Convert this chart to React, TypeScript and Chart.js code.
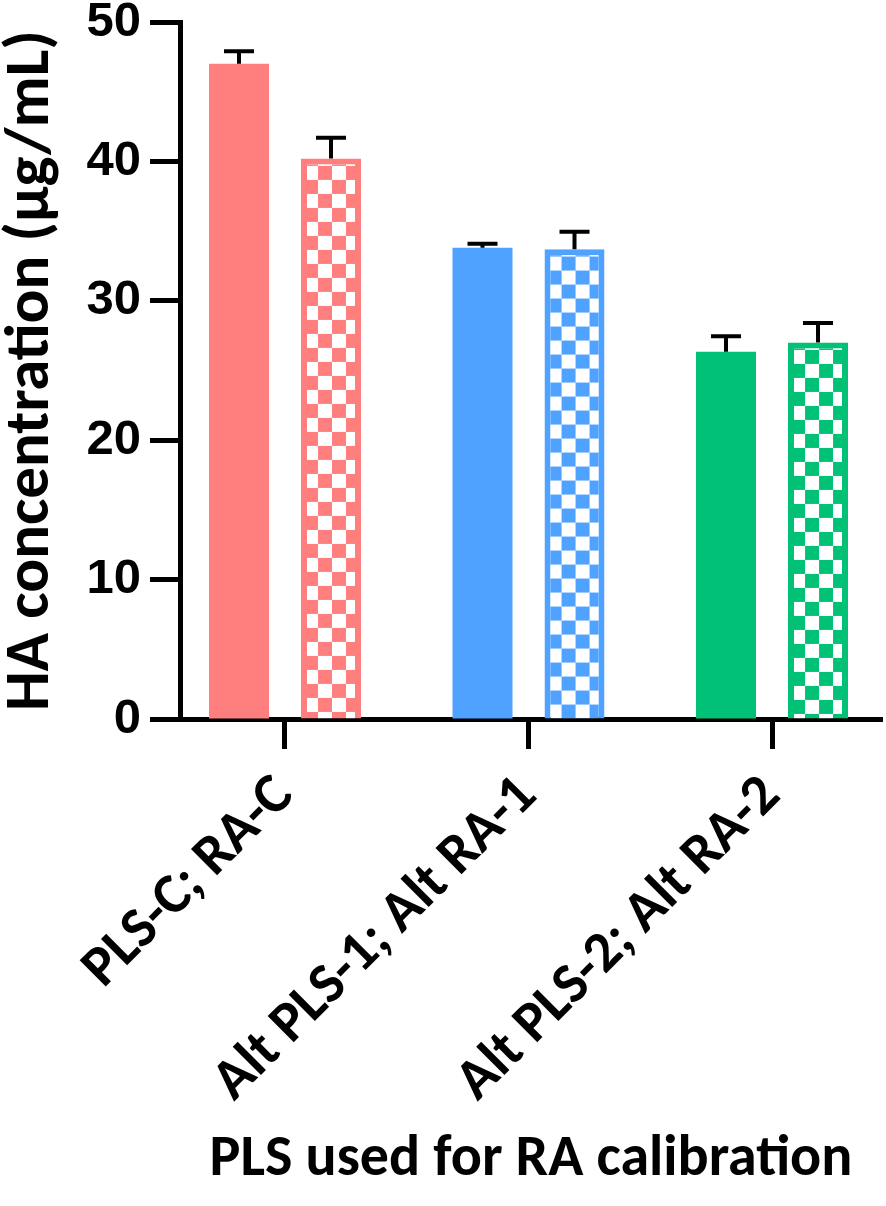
import React, { useEffect, useRef } from "react";
import { Chart, registerables } from "chart.js";

Chart.register(...registerables);

const categories = ["PLS-C; RA-C", "Alt PLS-1; Alt RA-1", "Alt PLS-2; Alt RA-2"];
const solidMeans = [47.0, 33.8, 26.35];
const solidErrors = [0.9, 0.3, 1.1];
const checkMeans = [40.2, 33.7, 27.0];
const checkErrors = [1.5, 1.25, 1.4];
const barColors = ["#FF7F7F", "#4FA2FF", "#00C176"];
const yTickValues = [0, 10, 20, 30, 40, 50];

const W = 886;
const H = 1206;

function makeChecker(color: string): CanvasPattern {
  const c = document.createElement("canvas");
  c.width = 28;
  c.height = 28;
  const g = c.getContext("2d")!;
  g.fillStyle = "#FFFFFF";
  g.fillRect(0, 0, 28, 28);
  g.fillStyle = color;
  g.fillRect(0, 0, 14, 14);
  g.fillRect(14, 14, 14, 14);
  const ctx = document.createElement("canvas").getContext("2d")!;
  return ctx.createPattern(c, "repeat")!;
}

const errorBarPlugin = {
  id: "errorBars",
  afterDatasetsDraw(chart: any) {
    const ctx = chart.ctx;
    const yScale = chart.scales.y;
    chart.data.datasets.forEach((ds: any, di: number) => {
      const meta = chart.getDatasetMeta(di);
      const errs: number[] = ds.errors || [];
      meta.data.forEach((el: any, j: number) => {
        const v = ds.data[j].y;
        const top = yScale.getPixelForValue(v + errs[j]);
        const { x, y } = el.getProps(["x", "y"], true);
        ctx.save();
        ctx.strokeStyle = "#000000";
        ctx.lineWidth = 4;
        ctx.lineCap = "butt";
        ctx.beginPath();
        ctx.moveTo(x, y);
        ctx.lineTo(x, top);
        ctx.moveTo(x - 15, top);
        ctx.lineTo(x + 15, top);
        ctx.stroke();
        ctx.restore();
      });
    });
  },
};

const patternAlignPlugin = {
  id: "patternAlign",
  beforeDatasetsDraw(chart: any) {
    chart.data.datasets.forEach((ds: any, di: number) => {
      if (!ds.checkered) return;
      const meta = chart.getDatasetMeta(di);
      meta.data.forEach((el: any, j: number) => {
        const { x, y, width } = el.getProps(["x", "y", "width"], true);
        const p = ds.backgroundColor[j];
        if (p && p.setTransform) {
          p.setTransform(new DOMMatrix([1, 0, 0, 1, x - width / 2 + 3, y - 6.7]));
        }
      });
    });
  },
};

export default function App() {
  const ref = useRef<HTMLCanvasElement>(null);

  useEffect(() => {
    const canvas = ref.current!;
    const patterns = barColors.map((c) => makeChecker(c));
    const chart = new Chart(canvas, {
      type: "bar",
      data: {
        datasets: [
          {
            label: "A",
            data: categories.map((_, i) => ({ x: i, y: solidMeans[i] })),
            backgroundColor: barColors,
            borderWidth: 0,
            errors: solidErrors,
          } as any,
          {
            label: "B",
            data: categories.map((_, i) => ({ x: i, y: checkMeans[i] })),
            backgroundColor: patterns,
            borderColor: barColors,
            borderWidth: 6,
            errors: checkErrors,
            checkered: true,
          } as any,
        ],
      },
      options: {
        animation: false,
        responsive: false,
        devicePixelRatio: 1,
        categoryPercentage: 184 / 243.5,
        barPercentage: 60 / 92,
        layout: { padding: { left: 0, right: 4, top: 22, bottom: 0 } },
        plugins: { legend: { display: false }, tooltip: { enabled: false } },
        scales: {
          x: {
            type: "linear",
            offset: false,
            min: -0.4312,
            max: 2.4517,
            afterBuildTicks(scale: any) {
              scale.ticks = categories.map((_, i) => ({ value: i }));
            },
            afterFit(scale: any) {
              scale.height = H - 719;
              scale.paddingLeft = 0;
              scale.paddingRight = 0;
            },
            ticks: {
              autoSkip: false,
              minRotation: 45,
              maxRotation: 45,
              padding: 18,
              color: "#000000",
              font: { family: "Carlito, Lato, sans-serif", size: 57, weight: "bold", lineHeight: 1 },
              callback: (v: any) => categories[v as number],
            },
            grid: {
              display: true,
              offset: false,
              drawOnChartArea: false,
              drawTicks: true,
              tickLength: 30,
              tickWidth: 5,
              tickColor: "#000000",
            },
            border: { display: true, width: 5, color: "#000000" },
            title: {
              display: true,
              text: "PLS used for RA calibration",
              color: "#000000",
              font: { family: "Carlito, Lato, sans-serif", size: 58, weight: "bold", lineHeight: 1 },
              padding: { top: 0, bottom: 17 },
            },
          },
          y: {
            min: 0,
            max: 50,
            afterBuildTicks(scale: any) {
              scale.ticks = yTickValues.map((v) => ({ value: v }));
            },
            afterFit(scale: any) {
              scale.width = 180;
              scale.paddingTop = 0;
              scale.paddingBottom = 0;
            },
            ticks: {
              padding: 9,
              color: "#000000",
              font: { family: "'Liberation Sans', Arial, sans-serif", size: 49, weight: "bold", lineHeight: 1 },
            },
            grid: {
              display: true,
              drawOnChartArea: false,
              drawTicks: true,
              tickLength: 30,
              tickWidth: 5,
              tickColor: "#000000",
            },
            border: { display: true, width: 5, color: "#000000" },
            title: {
              display: true,
              text: "HA concentration (µg/mL)",
              color: "#000000",
              font: { family: "Carlito, Lato, sans-serif", size: 63, weight: "bold", lineHeight: 1 },
              padding: { top: 1, bottom: 0 },
            },
          },
        },
      } as any,
      plugins: [patternAlignPlugin, errorBarPlugin],
    });
    return () => chart.destroy();
  }, []);

  return (
    <div style={{ position: "fixed", left: 0, top: 0, width: W, height: H, background: "#FFFFFF" }}>
      <canvas ref={ref} width={W} height={H} style={{ display: "block", width: W, height: H }} />
    </div>
  );
}
